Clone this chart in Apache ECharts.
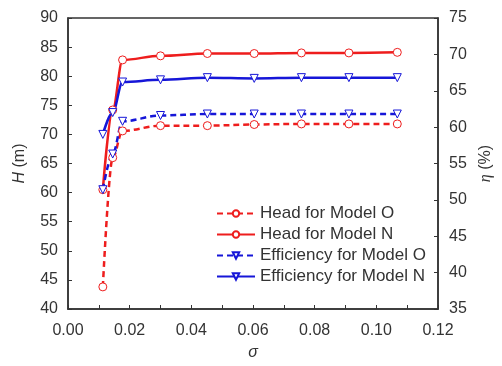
<!DOCTYPE html>
<html>
<head>
<meta charset="utf-8">
<script src="https://cdn.jsdelivr.net/npm/echarts@6/dist/echarts.min.js"></script>
<style>html,body{margin:0;padding:0;background:#fff;}#c{width:502px;height:366px;}</style>
</head>
<body>
<div id="c"></div>
<script>
const sigma = [0.0113, 0.0145, 0.0177, 0.0300, 0.0452, 0.0604, 0.0757, 0.0911, 0.1068];
const headO = [43.8, 66.0, 70.6, 71.5, 71.5, 71.7, 71.8, 71.8, 71.8];
const headN = [60.5, 74.2, 82.8, 83.5, 83.9, 83.9, 84.0, 84.0, 84.1];
const effO = [51.4, 56.3, 60.8, 61.6, 61.8, 61.8, 61.8, 61.8, 61.8];
const effN = [59.0, 62.0, 66.2, 66.5, 66.8, 66.7, 66.8, 66.8, 66.8];
const seriesNames = ['Head for Model O', 'Head for Model N', 'Efficiency for Model O', 'Efficiency for Model N'];

const RED = '#ee1d1d', BLUE = '#1616d8', AX = '#333';
const FONT = 'Liberation Sans, Arial, sans-serif';
const pairs = arr => sigma.map((s, i) => [s, arr[i]]);

function mk(name, arr, color, dashed, symbol, yIdx) {
  return {
    name: name, type: 'line', yAxisIndex: yIdx, data: pairs(arr),
    smooth: 0.35, smoothMonotone: 'x',
    symbol: symbol, symbolSize: 8, symbolRotate: symbol === 'triangle' ? 180 : 0,
    showAllSymbol: true,
    lineStyle: { color: color, width: 2.5, type: dashed ? [6, 4] : 'solid' },
    itemStyle: { color: '#fff', borderColor: color, borderWidth: 1 },
    emphasis: { disabled: true }
  };
}

const chart = echarts.init(document.getElementById('c'), null, { renderer: 'canvas' });
const lbl = { color: '#333', fontSize: 16, fontFamily: FONT };
chart.setOption({
  animation: false,
  backgroundColor: '#fff',
  grid: { left: 68, right: 54, top: 18, bottom: 51, show: true, borderColor: AX, borderWidth: 1.5, backgroundColor: 'transparent' },
  legend: {
    data: seriesNames, orient: 'vertical', left: 211, top: 200, itemWidth: 38, itemHeight: 8, itemGap: 4,
    textStyle: { color: '#333', fontSize: 17, fontFamily: FONT }
  },
  xAxis: {
    type: 'value', min: 0, max: 0.12, interval: 0.02,
    name: 'σ', nameLocation: 'middle', nameGap: 36,
    nameTextStyle: { color: '#333', fontSize: 16, fontStyle: 'italic', fontFamily: FONT },
    axisLine: { show: true, lineStyle: { color: AX, width: 1.5 } },
    axisTick: { show: true, inside: true, length: 4, lineStyle: { color: AX } },
    minorTick: { show: true, splitNumber: 2, length: 4, lineStyle: { color: AX } },
    splitLine: { show: false },
    axisLabel: Object.assign({ margin: 14, formatter: v => v.toFixed(2) }, lbl)
  },
  yAxis: [
    {
      type: 'value', min: 40, max: 90, interval: 5, position: 'left',
      name: '{i|H} (m)', nameLocation: 'middle', nameGap: 40, nameRotate: 90,
      nameTextStyle: { color: '#333', fontSize: 16, fontFamily: FONT,
        rich: { i: { fontStyle: 'italic', fontSize: 16, color: '#333', fontFamily: FONT } } },
      axisLine: { show: true, lineStyle: { color: AX, width: 1.5 } },
      axisTick: { show: true, inside: true, length: 4, lineStyle: { color: AX } },
      splitLine: { show: false },
      axisLabel: Object.assign({ margin: 10 }, lbl)
    },
    {
      type: 'value', min: 35, max: 75, interval: 5, position: 'right',
      name: '{i|η} (%)', nameLocation: 'middle', nameGap: 40, nameRotate: 90,
      nameTextStyle: { color: '#333', fontSize: 16, fontFamily: FONT,
        rich: { i: { fontStyle: 'italic', fontSize: 16, color: '#333', fontFamily: 'Liberation Serif, serif' } } },
      axisLine: { show: true, lineStyle: { color: AX, width: 1.5 } },
      axisTick: { show: true, inside: true, length: 4, lineStyle: { color: AX } },
      splitLine: { show: false },
      axisLabel: Object.assign({ margin: 11 }, lbl)
    }
  ],
  series: [
    mk(seriesNames[0], headO, RED, true, 'circle', 0),
    mk(seriesNames[1], headN, RED, false, 'circle', 0),
    mk(seriesNames[2], effO, BLUE, true, 'triangle', 1),
    mk(seriesNames[3], effN, BLUE, false, 'triangle', 1)
  ]
});
</script>
</body>
</html>
